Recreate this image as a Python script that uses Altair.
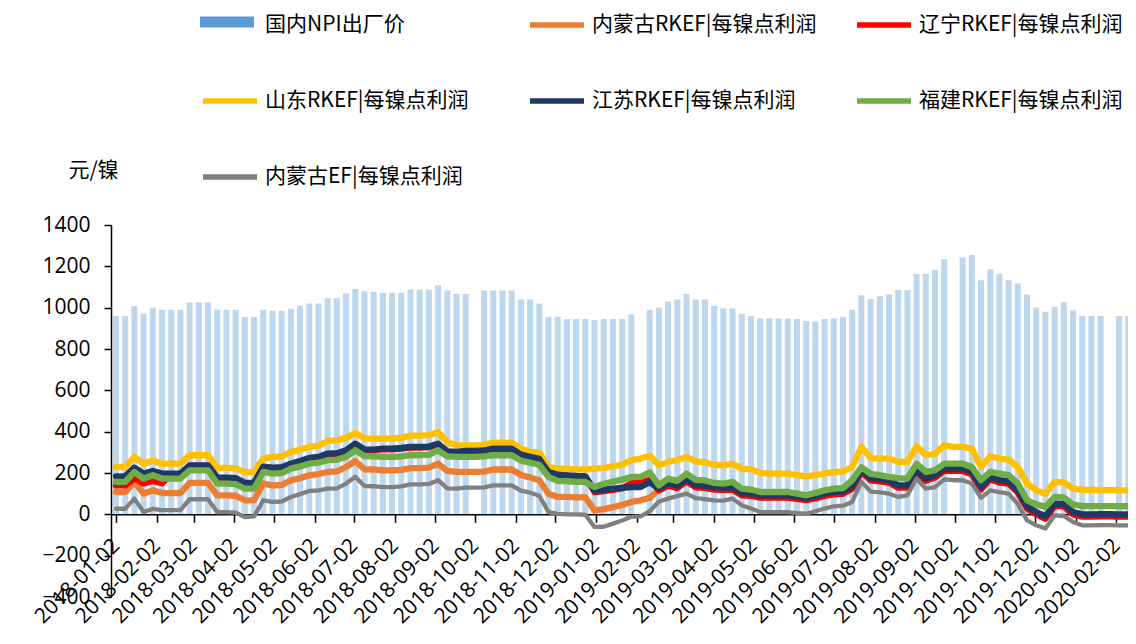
import altair as alt
import pandas as pd

# weekly sampling grid (2018-01-02 onward)
dates = pd.date_range("2018-01-02", periods=112, freq="7D").strftime("%Y/%m/%d").tolist()

names = ["国内NPI出厂价", "内蒙古RKEF|每镍点利润", "辽宁RKEF|每镍点利润", "山东RKEF|每镍点利润",
         "江苏RKEF|每镍点利润", "福建RKEF|每镍点利润", "内蒙古EF|每镍点利润"]
colors = ["#5B9BD5", "#ED7D31", "#FF0000", "#FFC000", "#203864", "#70AD47", "#808080"]

tick_labels = ["2018-01-02", "2018-02-02", "2018-03-02", "2018-04-02", "2018-05-02", "2018-06-02",
               "2018-07-02", "2018-08-02", "2018-09-02", "2018-10-02", "2018-11-02", "2018-12-02",
               "2019-01-02", "2019-02-02", "2019-03-02", "2019-04-02", "2019-05-02", "2019-06-02",
               "2019-07-02", "2019-08-02", "2019-09-02", "2019-10-02", "2019-11-02", "2019-12-02",
               "2020-01-02", "2020-02-02", "2020-03-02"]

npi = [960, 960, 1008, 970, 1000, 990, 990, 990, 1025, 1025, 1025, 990,
       990, 990, 955, 955, 990, 985, 985, 995, 1010, 1020, 1020, 1045,
       1045, 1068, 1090, 1080, 1077, 1072, 1072, 1072, 1088, 1088, 1088, 1109,
       1083, 1066, 1066, None, 1083, 1083, 1083, 1083, 1040, 1040, 1020, 956,
       956, 945, 945, 945, 940, 945, 945, 945, 968, None, 990, 1001,
       1030, 1040, 1066, 1040, 1040, 1008, 996, 996, 970, 960, 948, 948,
       948, 948, 945, 935, 932, 945, 948, 956, 990, 1060, 1042, 1055,
       1064, 1085, 1085, 1163, 1163, 1182, 1234, None, 1243, 1255, 1133, 1186,
       1163, 1133, 1117, 1064, 1001, 980, 1005, 1026, 988, 960, 960, 960,
       None, 960, 960, 960]

neimeng_rkef = [108, 108, 157, 100, 116, 103, 103, 103, 152, 152, 152, 92,
                92, 90, 68, 68, 149, 140, 142, 165, 175, 189, 195, 205,
                208, 229, 258, 218, 217, 213, 213, 215, 224, 224, 226, 245,
                210, 205, 205, 205, 207, 217, 217, 217, 190, 178, 165, 100,
                84, 84, 82, 82, 19, 25, 35, 45, 60, 68, 80, 119,
                142, 131, 164, 135, 132, 124, 122, 124, 96, 93, 85, 85,
                85, 85, 79, 73, 81, 93, 101, 103, 128, 210, 168, 163,
                158, 133, 133, 206, 166, 182, 214, 214, 214, 198, 125, 174,
                158, 153, 109, 32, 4, -17, 45, 43, 4, -7, -7, -6,
                -6, -7, -7, -7]

liaoning = [140, 140, 173, 149, 162, 150, 194, 194, 234, 234, 234, 175,
            175, 172, 149, 149, 228, 223, 225, 242, 255, 270, 275, 291,
            293, 307, 339, 311, 310, 315, 315, 318, 323, 323, 325, 339,
            302, 299, 304, 304, 306, 315, 315, 315, 286, 275, 265, 202,
            189, 186, 183, 181, 108, 112, 118, 125, 150, 152, 168, 115,
            138, 127, 160, 131, 128, 120, 118, 120, 92, 89, 81, 81,
            81, 81, 75, 69, 77, 89, 97, 99, 124, 206, 164, 159,
            154, 129, 129, 202, 162, 178, 210, 210, 210, 194, 121, 170,
            154, 149, 105, 28, 0, -21, 41, 39, 0, -11, -11, -10,
            -10, -11, -11, -11]

shandong = [229, 229, 278, 245, 260, 245, 245, 245, 286, 286, 286, 225,
            225, 222, 204, 204, 270, 278, 280, 302, 312, 326, 332, 355,
            358, 370, 394, 368, 366, 366, 366, 370, 381, 381, 383, 397,
            350, 334, 334, 334, 336, 347, 347, 347, 318, 302, 298, 229,
            221, 221, 218, 218, 221, 225, 232, 240, 262, 270, 284, 237,
            254, 262, 278, 256, 252, 240, 237, 245, 221, 218, 200, 197,
            197, 197, 190, 184, 190, 197, 205, 208, 229, 326, 272, 270,
            270, 254, 254, 329, 286, 294, 334, 326, 326, 318, 229, 281,
            270, 265, 229, 149, 116, 100, 157, 155, 124, 118, 118, 117,
            117, 116, 116, 116]

jiangsu = [184, 184, 226, 197, 210, 197, 197, 197, 237, 237, 237, 178,
           178, 175, 152, 152, 231, 226, 228, 245, 258, 273, 278, 294,
           296, 310, 342, 314, 313, 318, 318, 321, 326, 326, 328, 342,
           305, 302, 307, 307, 309, 318, 318, 318, 289, 278, 268, 205,
           192, 189, 186, 184, 116, 120, 124, 128, 132, 132, 155, 126,
           149, 138, 171, 142, 139, 131, 129, 131, 103, 100, 92, 92,
           92, 92, 86, 80, 88, 100, 108, 110, 135, 217, 175, 170,
           165, 140, 140, 213, 173, 189, 221, 221, 221, 205, 132, 181,
           165, 160, 116, 39, 11, -10, 52, 50, 11, 0, 0, 1,
           1, 0, 0, 0]

fujian = [157, 157, 205, 173, 189, 173, 173, 173, 213, 213, 213, 149,
          149, 146, 124, 124, 205, 197, 199, 221, 232, 245, 250, 262,
          264, 278, 310, 282, 281, 278, 278, 280, 286, 286, 288, 310,
          280, 278, 278, 278, 280, 286, 286, 286, 260, 250, 240, 181,
          162, 160, 157, 157, 132, 148, 158, 168, 181, 181, 203, 140,
          173, 162, 197, 167, 164, 152, 149, 157, 124, 120, 108, 108,
          108, 108, 100, 92, 104, 116, 124, 127, 165, 228, 196, 190,
          181, 175, 173, 245, 205, 213, 245, 245, 245, 229, 165, 205,
          197, 190, 149, 68, 48, 36, 84, 82, 48, 40, 40, 40,
          40, 39, 39, 39]

neimeng_ef = [27, 27, 76, 11, 27, 20, 20, 20, 73, 73, 73, 11,
              11, 8, -13, -10, 68, 60, 62, 84, 98, 113, 116, 124,
              126, 149, 182, 137, 136, 132, 132, 135, 145, 145, 147, 165,
              126, 124, 129, 129, 130, 140, 140, 140, 115, 105, 90, 11,
              2, 0, 0, -2, -61, -60, -45, -30, -12, -10, 15, 62,
              76, 88, 100, 78, 74, 68, 66, 76, 44, 28, 11, 11,
              11, 11, 6, 3, 15, 28, 39, 42, 60, 157, 110, 106,
              100, 84, 92, 173, 124, 132, 169, 165, 165, 149, 80, 116,
              108, 100, 50, -29, -53, -69, -5, -8, -37, -53, -53, -52,
              -52, -53, -53, -53]

line_series = [neimeng_rkef, liaoning, shandong, jiangsu, fujian, neimeng_ef]

df_bar = pd.DataFrame({"date": dates, "value": npi, "kind": names[0]}).dropna()
rows = []
for name, vals in zip(names[1:], line_series):
    for d, v in zip(dates, vals):
        rows.append({"series": name, "date": d, "value": v})
df_line = pd.DataFrame(rows)


def dt(s):
    return alt.DateTime(year=int(s[:4]), month=int(s[5:7]), date=int(s[8:10]))


CJK = "Noto Sans CJK SC"
NUM = "Open Sans"

x = alt.X(
    "date:T",
    scale=alt.Scale(domain=[dt("2018-01-02"), dt("2020-02-07")], nice=False),
    axis=alt.Axis(
        values=[dt(s) for s in tick_labels], format="%Y-%m-%d", title=None,
        labelAngle=-45, labelAlign="right", labelBaseline="middle",
        labelFont=NUM, labelFontSize=21, labelColor="black", labelPadding=20,
        labelOverlap=False, labelFlush=False, labelBound=False,
        tickSize=8, tickColor="black", tickWidth=1.5,
        domainColor="black", domainWidth=1.5, offset=-82.67, grid=False,
    ),
)
y = alt.Y(
    "value:Q",
    scale=alt.Scale(domain=[-400, 1400], nice=False, zero=False),
    axis=alt.Axis(
        values=list(range(-400, 1401, 200)), format="d", title="元/镍", titleAngle=0,
        titleX=-18, titleY=-55, titleAlign="center", titleBaseline="middle",
        titleFont=CJK, titleFontSize=21, titleFontWeight="normal", titleColor="black",
        labelFont=NUM, labelFontSize=21, labelColor="black", labelPadding=14,
        tickSize=7, tickColor="black", tickWidth=1.5,
        domainColor="black", domainWidth=1.5, grid=False, labelOverlap=False,
    ),
)

LEG_X, LEG_Y = 89, -230
SYM = 2916

line_legend = alt.Legend(
    title=None, orient="none", legendX=LEG_X, legendY=LEG_Y, columns=3, direction="horizontal",
    symbolType="stroke", symbolSize=SYM, symbolStrokeWidth=5.5, symbolOpacity=1,
    labelFont=CJK, labelFontSize=21, labelColor="black", labelOffset=5, labelLimit=500,
    columnPadding=29, rowPadding=35, gridAlign="all", padding=0,
)
bar_legend = alt.Legend(
    title=None, orient="none", legendX=LEG_X, legendY=LEG_Y, direction="horizontal",
    symbolType="M-1,-0.2L1,-0.2L1,0.2L-1,0.2Z", symbolSize=SYM, symbolOpacity=1,
    symbolStrokeWidth=0, labelExpr="''",
    labelFont=CJK, labelFontSize=21, labelOffset=6, padding=0,
)

line_colors = ["transparent"] + colors[1:]

bars = alt.Chart(df_bar).mark_bar(width=6, opacity=0.4, clip=True).encode(
    x=x, y=y,
    fill=alt.Fill("kind:N", scale=alt.Scale(domain=[names[0]], range=[colors[0]]), legend=bar_legend),
)

lines = alt.Chart(df_line).mark_line(clip=True, strokeJoin="round", strokeCap="round").encode(
    x=x, y=y,
    color=alt.Color("series:N", scale=alt.Scale(domain=names, range=line_colors),
                    legend=line_legend, sort=None),
    strokeWidth=alt.condition(alt.datum.series == names[-1], alt.value(4.3), alt.value(6.3)),
)

chart = alt.layer(bars, lines).properties(
    width=1017, height=372,
    autosize=alt.AutoSizeParams(type="none"),
    padding={"left": 103, "top": 217, "right": 0, "bottom": 32},
).configure_view(stroke=None)

chart.save("out.html", embed_options={"renderer": "svg", "actions": False})
